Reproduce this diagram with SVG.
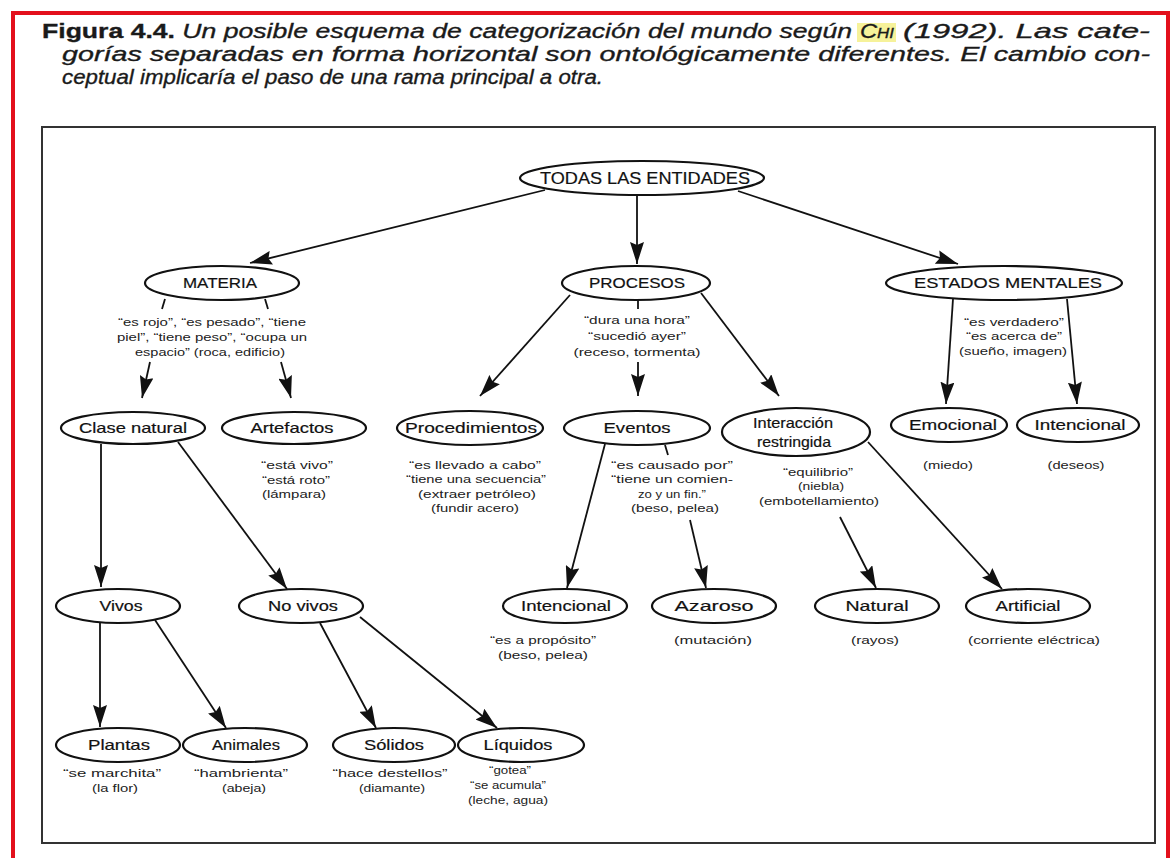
<svg xmlns="http://www.w3.org/2000/svg" width="1173" height="858" viewBox="0 0 1173 858">
<style>
.title{font-family:"Liberation Sans",Arial,sans-serif;font-size:21px;fill:#1a1a1a;stroke:#1a1a1a;stroke-width:0.35;font-style:italic}
.node ellipse{fill:#fff;stroke:#111;stroke-width:2.2}
.lbl{font-family:"Liberation Sans",Arial,sans-serif;font-size:15px;text-anchor:middle;fill:#111;stroke:#111;stroke-width:0.2}
.big{font-size:17px}
.note{font-family:"Liberation Sans",Arial,sans-serif;font-size:11px;text-anchor:middle;fill:#222}
#connectors line{stroke:#111;stroke-width:1.8}
#connectors line.arr{marker-end:url(#ah)}
</style>
<defs>
<marker id="ah" viewBox="0 0 22 14" refX="22" refY="7" markerWidth="22" markerHeight="14" markerUnits="userSpaceOnUse" orient="auto">
<path d="M0,0 L22,7 L0,14 L3,7 z" fill="#111"/>
</marker>
</defs>
<rect width="1173" height="858" fill="#fff"/>
<rect x="13" y="13" width="1155" height="870" fill="none" stroke="#e3101c" stroke-width="4"/>
<rect x="42" y="127" width="1113" height="716" fill="none" stroke="#333" stroke-width="2"/>

<g id="title">
<rect x="857" y="23" width="39" height="19" fill="#f6f29a"/>
<text class="title" x="42" y="38" textLength="810" lengthAdjust="spacingAndGlyphs"><tspan font-weight="bold" font-style="normal">Figura 4.4.</tspan> Un posible esquema de categorización del mundo según</text>
<text class="title" x="860" y="38" fill="#6b7d1e" stroke="#6b7d1e" textLength="34" lengthAdjust="spacingAndGlyphs">C<tspan font-size="15">HI</tspan></text>
<text class="title" x="903" y="38" textLength="247" lengthAdjust="spacingAndGlyphs">(1992). Las cate-</text>
<text class="title" x="62" y="61" textLength="1088" lengthAdjust="spacingAndGlyphs">gorías separadas en forma horizontal son ontológicamente diferentes. El cambio con-</text>
<text class="title" x="62" y="84" textLength="541" lengthAdjust="spacingAndGlyphs">ceptual implicaría el paso de una rama principal a otra.</text>
</g>

<g id="connectors">
<line class="arr" x1="545" y1="190" x2="250" y2="263"/>
<line class="arr" x1="637" y1="195" x2="637" y2="264"/>
<line class="arr" x1="738" y1="191" x2="958" y2="264"/>
<line x1="165" y1="299" x2="162" y2="309"/>
<line class="arr" x1="150" y1="362" x2="142" y2="398"/>
<line x1="265" y1="299" x2="268" y2="309"/>
<line class="arr" x1="281" y1="362" x2="291" y2="398"/>
<line class="arr" x1="570" y1="295" x2="480" y2="396"/>
<line x1="638" y1="300" x2="638" y2="309"/>
<line class="arr" x1="638" y1="362" x2="638" y2="396"/>
<line class="arr" x1="701" y1="293" x2="779" y2="396"/>
<line class="arr" x1="953" y1="299" x2="946" y2="404"/>
<line class="arr" x1="1067" y1="299" x2="1077" y2="404"/>
<line class="arr" x1="101" y1="444" x2="101" y2="587"/>
<line class="arr" x1="178" y1="442" x2="287" y2="589"/>
<line class="arr" x1="605" y1="444" x2="567" y2="588"/>
<line x1="665" y1="445" x2="668" y2="455"/>
<line class="arr" x1="690" y1="520" x2="706" y2="588"/>
<line class="arr" x1="840" y1="517" x2="876" y2="588"/>
<line class="arr" x1="868" y1="442" x2="1002" y2="589"/>
<line class="arr" x1="100" y1="623" x2="100" y2="727"/>
<line class="arr" x1="155" y1="620" x2="226" y2="728"/>
<line class="arr" x1="320" y1="623" x2="376" y2="728"/>
<line class="arr" x1="360" y1="617" x2="497" y2="728"/>
</g>

<g id="todas" class="node"><ellipse cx="642" cy="178" rx="122" ry="17"/><text class="lbl big" x="645" y="184" textLength="210" lengthAdjust="spacingAndGlyphs">TODAS LAS ENTIDADES</text></g>

<g id="materia" class="node"><ellipse cx="222" cy="283" rx="77" ry="17"/><text class="lbl" x="220" y="288" textLength="74" lengthAdjust="spacingAndGlyphs">MATERIA</text>
<text class="note" x="212" y="326" textLength="188" lengthAdjust="spacingAndGlyphs">“es rojo”, “es pesado”, “tiene</text>
<text class="note" x="212" y="341" textLength="190" lengthAdjust="spacingAndGlyphs">piel”, “tiene peso”, “ocupa un</text>
<text class="note" x="210" y="356" textLength="150" lengthAdjust="spacingAndGlyphs">espacio” (roca, edificio)</text></g>

<g id="procesos" class="node"><ellipse cx="636" cy="283" rx="74" ry="17"/><text class="lbl" x="637" y="288" textLength="96" lengthAdjust="spacingAndGlyphs">PROCESOS</text>
<text class="note" x="637" y="324" textLength="106" lengthAdjust="spacingAndGlyphs">“dura una hora”</text>
<text class="note" x="637" y="340" textLength="98" lengthAdjust="spacingAndGlyphs">“sucedió ayer”</text>
<text class="note" x="637" y="356" textLength="127" lengthAdjust="spacingAndGlyphs">(receso, tormenta)</text></g>

<g id="estados" class="node"><ellipse cx="1004" cy="283" rx="118" ry="17"/><text class="lbl" x="1008" y="288" textLength="188" lengthAdjust="spacingAndGlyphs">ESTADOS MENTALES</text>
<text class="note" x="1014" y="326" textLength="100" lengthAdjust="spacingAndGlyphs">“es verdadero”</text>
<text class="note" x="1014" y="340" textLength="96" lengthAdjust="spacingAndGlyphs">“es acerca de”</text>
<text class="note" x="1013" y="355" textLength="108" lengthAdjust="spacingAndGlyphs">(sueño, imagen)</text></g>

<g id="clase-natural" class="node"><ellipse cx="133" cy="428" rx="72" ry="16"/><text class="lbl" x="133" y="433" textLength="108" lengthAdjust="spacingAndGlyphs">Clase natural</text></g>

<g id="artefactos" class="node"><ellipse cx="294" cy="428" rx="72" ry="16"/><text class="lbl" x="292" y="433" textLength="83" lengthAdjust="spacingAndGlyphs">Artefactos</text>
<text class="note" x="297" y="469" textLength="72" lengthAdjust="spacingAndGlyphs">“está vivo”</text>
<text class="note" x="296" y="484" textLength="68" lengthAdjust="spacingAndGlyphs">“está roto”</text>
<text class="note" x="294" y="498" textLength="64" lengthAdjust="spacingAndGlyphs">(lámpara)</text></g>

<g id="procedimientos" class="node"><ellipse cx="470" cy="428" rx="73" ry="17"/><text class="lbl" x="471" y="433" textLength="132" lengthAdjust="spacingAndGlyphs">Procedimientos</text>
<text class="note" x="475" y="469" textLength="132" lengthAdjust="spacingAndGlyphs">“es llevado a cabo”</text>
<text class="note" x="476" y="483" textLength="140" lengthAdjust="spacingAndGlyphs">“tiene una secuencia”</text>
<text class="note" x="477" y="498" textLength="118" lengthAdjust="spacingAndGlyphs">(extraer petróleo)</text>
<text class="note" x="475" y="512" textLength="88" lengthAdjust="spacingAndGlyphs">(fundir acero)</text></g>

<g id="eventos" class="node"><ellipse cx="637" cy="428" rx="73" ry="17"/><text class="lbl" x="637" y="433" textLength="67" lengthAdjust="spacingAndGlyphs">Eventos</text>
<text class="note" x="672" y="469" textLength="122" lengthAdjust="spacingAndGlyphs">“es causado por”</text>
<text class="note" x="672" y="483" textLength="122" lengthAdjust="spacingAndGlyphs">“tiene un comien-</text>
<text class="note" x="672" y="498" textLength="68" lengthAdjust="spacingAndGlyphs">zo y un fin.”</text>
<text class="note" x="675" y="512" textLength="88" lengthAdjust="spacingAndGlyphs">(beso, pelea)</text></g>

<g id="interaccion" class="node"><ellipse cx="796" cy="432" rx="74" ry="24"/><text class="lbl" x="793" y="428" textLength="80" lengthAdjust="spacingAndGlyphs">Interacción</text><text class="lbl" x="794" y="447" textLength="74" lengthAdjust="spacingAndGlyphs">restringida</text>
<text class="note" x="818" y="476" textLength="70" lengthAdjust="spacingAndGlyphs">“equilibrio”</text>
<text class="note" x="821" y="490" textLength="46" lengthAdjust="spacingAndGlyphs">(niebla)</text>
<text class="note" x="819" y="505" textLength="120" lengthAdjust="spacingAndGlyphs">(embotellamiento)</text></g>

<g id="emocional" class="node"><ellipse cx="949" cy="425" rx="58" ry="17"/><text class="lbl" x="953" y="430" textLength="88" lengthAdjust="spacingAndGlyphs">Emocional</text>
<text class="note" x="948" y="469" textLength="50" lengthAdjust="spacingAndGlyphs">(miedo)</text></g>

<g id="intencional-1" class="node"><ellipse cx="1078" cy="425" rx="61" ry="17"/><text class="lbl" x="1080" y="430" textLength="91" lengthAdjust="spacingAndGlyphs">Intencional</text>
<text class="note" x="1076" y="469" textLength="57" lengthAdjust="spacingAndGlyphs">(deseos)</text></g>

<g id="vivos" class="node"><ellipse cx="118" cy="606" rx="62" ry="17"/><text class="lbl" x="121" y="611" textLength="43" lengthAdjust="spacingAndGlyphs">Vivos</text></g>

<g id="no-vivos" class="node"><ellipse cx="301" cy="606" rx="62" ry="17"/><text class="lbl" x="303" y="611" textLength="70" lengthAdjust="spacingAndGlyphs">No vivos</text></g>

<g id="intencional-2" class="node"><ellipse cx="565" cy="606" rx="62" ry="17"/><text class="lbl" x="566" y="611" textLength="90" lengthAdjust="spacingAndGlyphs">Intencional</text>
<text class="note" x="543" y="644" textLength="106" lengthAdjust="spacingAndGlyphs">“es a propósito”</text>
<text class="note" x="543" y="659" textLength="90" lengthAdjust="spacingAndGlyphs">(beso, pelea)</text></g>

<g id="azaroso" class="node"><ellipse cx="714" cy="606" rx="62" ry="17"/><text class="lbl" x="714" y="611" textLength="79" lengthAdjust="spacingAndGlyphs">Azaroso</text>
<text class="note" x="713" y="644" textLength="78" lengthAdjust="spacingAndGlyphs">(mutación)</text></g>

<g id="natural" class="node"><ellipse cx="877" cy="606" rx="62" ry="17"/><text class="lbl" x="877" y="611" textLength="63" lengthAdjust="spacingAndGlyphs">Natural</text>
<text class="note" x="875" y="644" textLength="48" lengthAdjust="spacingAndGlyphs">(rayos)</text></g>

<g id="artificial" class="node"><ellipse cx="1028" cy="606" rx="62" ry="17"/><text class="lbl" x="1028" y="611" textLength="65" lengthAdjust="spacingAndGlyphs">Artificial</text>
<text class="note" x="1034" y="644" textLength="132" lengthAdjust="spacingAndGlyphs">(corriente eléctrica)</text></g>

<g id="plantas" class="node"><ellipse cx="118" cy="745" rx="62" ry="17"/><text class="lbl" x="119" y="750" textLength="62" lengthAdjust="spacingAndGlyphs">Plantas</text>
<text class="note" x="112" y="777" textLength="98" lengthAdjust="spacingAndGlyphs">“se marchita”</text>
<text class="note" x="115" y="792" textLength="46" lengthAdjust="spacingAndGlyphs">(la flor)</text></g>

<g id="animales" class="node"><ellipse cx="245" cy="745" rx="62" ry="17"/><text class="lbl" x="246" y="750" textLength="68" lengthAdjust="spacingAndGlyphs">Animales</text>
<text class="note" x="241" y="777" textLength="94" lengthAdjust="spacingAndGlyphs">“hambrienta”</text>
<text class="note" x="244" y="792" textLength="44" lengthAdjust="spacingAndGlyphs">(abeja)</text></g>

<g id="solidos" class="node"><ellipse cx="394" cy="745" rx="61" ry="17"/><text class="lbl" x="394" y="750" textLength="60" lengthAdjust="spacingAndGlyphs">Sólidos</text>
<text class="note" x="390" y="777" textLength="115" lengthAdjust="spacingAndGlyphs">“hace destellos”</text>
<text class="note" x="392" y="792" textLength="66" lengthAdjust="spacingAndGlyphs">(diamante)</text></g>

<g id="liquidos" class="node"><ellipse cx="521" cy="745" rx="63" ry="17"/><text class="lbl" x="518" y="750" textLength="69" lengthAdjust="spacingAndGlyphs">Líquidos</text>
<text class="note" x="510" y="774" textLength="42" lengthAdjust="spacingAndGlyphs">“gotea”</text>
<text class="note" x="508" y="789" textLength="76" lengthAdjust="spacingAndGlyphs">“se acumula”</text>
<text class="note" x="508" y="804" textLength="80" lengthAdjust="spacingAndGlyphs">(leche, agua)</text></g>
</svg>
